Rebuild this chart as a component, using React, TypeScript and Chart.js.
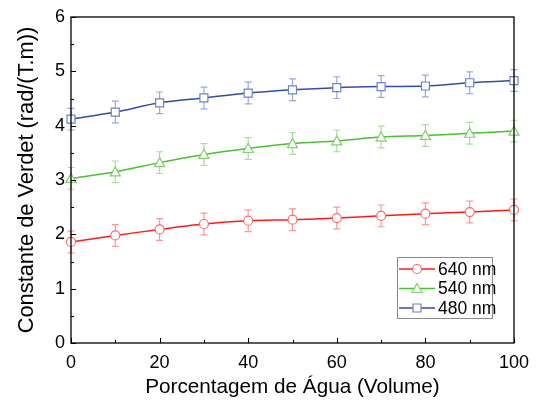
import React, { useEffect, useRef } from "react";
import { Chart, registerables } from "chart.js";

Chart.register(...registerables);

const waterPct = [0, 10, 20, 30, 40, 50, 60, 70, 80, 90, 100];
const verdet640 = [1.86, 1.98, 2.09, 2.19, 2.25, 2.27, 2.30, 2.34, 2.38, 2.41, 2.45];
const verdet540 = [3.03, 3.15, 3.32, 3.47, 3.58, 3.67, 3.72, 3.79, 3.82, 3.86, 3.90];
const verdet480 = [4.12, 4.25, 4.42, 4.51, 4.60, 4.66, 4.70, 4.72, 4.73, 4.79, 4.83];
const err640 = [0.2, 0.2, 0.2, 0.2, 0.2, 0.2, 0.2, 0.2, 0.2, 0.2, 0.2];
const err540 = [0.2, 0.2, 0.2, 0.2, 0.2, 0.2, 0.2, 0.2, 0.2, 0.2, 0.2];
const err480 = [0.2, 0.2, 0.2, 0.2, 0.2, 0.2, 0.2, 0.2, 0.2, 0.2, 0.2];
const seriesLabels = ["640 nm", "540 nm", "480 nm"];
const xTickStep = 20;
const xMinorStep = 10;
const yTickStep = 1;
const yMinorStep = 0.5;

const FONT = "'Liberation Sans', Arial, sans-serif";

const lineColors = ["#ff1a1a", "#4cbf34", "#2f4ea8"];
const markColors = ["#ff6a6a", "#84cf70", "#6f82c8"];
const errColors = ["rgba(255,80,80,0.6)", "rgba(110,200,90,0.6)", "rgba(90,110,200,0.6)"];
const shapes = ["circle", "triangle", "rect"];
const errs = [err640, err540, err480];

function drawMarker(ctx: CanvasRenderingContext2D, shape: string, x: number, y: number, color: string) {
  ctx.save();
  ctx.fillStyle = "#fff";
  ctx.strokeStyle = color;
  ctx.lineWidth = 1.2;
  ctx.beginPath();
  if (shape === "circle") {
    ctx.arc(x, y, 4.5, 0, Math.PI * 2);
  } else if (shape === "triangle") {
    ctx.moveTo(x, y - 5);
    ctx.lineTo(x + 5, y + 4);
    ctx.lineTo(x - 5, y + 4);
    ctx.closePath();
  } else {
    ctx.rect(x - 4, y - 4, 8, 8);
  }
  ctx.fill();
  ctx.stroke();
  ctx.restore();
}

const framePlugin = {
  id: "framePlugin",
  beforeDatasetsDraw(chart: any) {
    const ctx = chart.ctx as CanvasRenderingContext2D;
    const xs = chart.scales.x;
    const ys = chart.scales.y;
    ctx.save();
    chart.data.datasets.forEach((ds: any, i: number) => {
      ctx.strokeStyle = errColors[i];
      ctx.lineWidth = 1.2;
      ds.data.forEach((p: any, j: number) => {
        const px = xs.getPixelForValue(p.x);
        const top = ys.getPixelForValue(p.y + errs[i][j]);
        const bot = ys.getPixelForValue(p.y - errs[i][j]);
        ctx.beginPath();
        ctx.moveTo(px, top);
        ctx.lineTo(px, bot);
        ctx.moveTo(px - 3.5, top);
        ctx.lineTo(px + 3.5, top);
        ctx.moveTo(px - 3.5, bot);
        ctx.lineTo(px + 3.5, bot);
        ctx.stroke();
      });
    });
    ctx.restore();
  },
  afterDatasetsDraw(chart: any) {
    const ctx = chart.ctx as CanvasRenderingContext2D;
    const xs = chart.scales.x;
    const ys = chart.scales.y;
    chart.data.datasets.forEach((ds: any, i: number) => {
      ds.data.forEach((p: any) => {
        drawMarker(ctx, shapes[i], xs.getPixelForValue(p.x), ys.getPixelForValue(p.y), markColors[i]);
      });
    });
  },
  afterDraw(chart: any) {
    const ctx = chart.ctx as CanvasRenderingContext2D;
    const a = chart.chartArea;
    const xs = chart.scales.x;
    const ys = chart.scales.y;
    ctx.save();
    ctx.strokeStyle = "#000";
    ctx.lineWidth = 1.3;
    ctx.strokeRect(a.left, a.top, a.right - a.left, a.bottom - a.top);
    ctx.lineWidth = 1;
    ctx.beginPath();
    for (let v = xs.min; v <= xs.max + 1e-9; v += xMinorStep) {
      const px = Math.round(xs.getPixelForValue(v)) + 0.5;
      const major = Math.abs(v / xTickStep - Math.round(v / xTickStep)) < 1e-6;
      const len = major ? 5 : 3;
      ctx.moveTo(px, a.bottom);
      ctx.lineTo(px, a.bottom - len);
    }
    for (let v = ys.min; v <= ys.max + 1e-9; v += yMinorStep) {
      const py = Math.round(ys.getPixelForValue(v)) + 0.5;
      const major = Math.abs(v / yTickStep - Math.round(v / yTickStep)) < 1e-6;
      const len = major ? 5 : 3;
      ctx.moveTo(a.left, py);
      ctx.lineTo(a.left + len, py);
    }
    ctx.stroke();

    // legend
    const boxR = a.right - 22;
    const boxB = a.bottom - 25;
    const boxW = 95;
    const boxH = 61;
    const boxL = boxR - boxW;
    const boxT = boxB - boxH;
    ctx.fillStyle = "#fff";
    ctx.fillRect(boxL, boxT, boxW, boxH);
    ctx.strokeStyle = "#8a8a8a";
    ctx.lineWidth = 1;
    ctx.strokeRect(boxL + 0.5, boxT + 0.5, boxW, boxH);
    ctx.font = `17.5px ${FONT}`;
    ctx.textBaseline = "middle";
    ctx.textAlign = "left";
    chart.data.datasets.forEach((ds: any, i: number) => {
      const y = boxT + 12 + i * 19.5;
      ctx.strokeStyle = lineColors[i];
      ctx.lineWidth = 1.3;
      ctx.beginPath();
      ctx.moveTo(boxL + 2, y);
      ctx.lineTo(boxL + 38, y);
      ctx.stroke();
      drawMarker(ctx, shapes[i], boxL + 20, y, markColors[i]);
      ctx.fillStyle = "#000";
      ctx.fillText(ds.label, boxL + 41, y + 1);
    });
    ctx.restore();
  },
};

export default function App() {
  const ref = useRef<HTMLCanvasElement | null>(null);
  useEffect(() => {
    if (!ref.current) return;
    const series = [verdet640, verdet540, verdet480];
    const chart = new Chart(ref.current, {
      type: "line",
      data: {
        datasets: series.map((vals, i) => ({
          label: seriesLabels[i],
          data: waterPct.map((x, j) => ({ x, y: vals[j] })),
          borderColor: lineColors[i],
          borderWidth: 1.5,
          pointRadius: 0,
          tension: 0.3,
          fill: false,
        })),
      },
      options: {
        animation: false,
        responsive: false,
        maintainAspectRatio: false,
        layout: { padding: { top: 17, right: 25, left: 0, bottom: 0 } },
        plugins: { legend: { display: false }, tooltip: { enabled: false } },
        scales: {
          x: {
            type: "linear",
            min: 0,
            max: 100,
            grid: { display: false, drawTicks: false },
            border: { display: false },
            ticks: { stepSize: xTickStep, color: "#000", padding: 9, maxRotation: 0, font: { size: 18, family: FONT } },
            title: {
              display: true,
              text: "Porcentagem de Água (Volume)",
              color: "#000",
              font: { size: 20.7, family: FONT },
              padding: { top: 0, bottom: 2 },
            },
            afterFit: (s: any) => { s.height = 59; },
          },
          y: {
            type: "linear",
            min: 0,
            max: 6,
            grid: { display: false, drawTicks: false },
            border: { display: false },
            ticks: { stepSize: yTickStep, color: "#000", padding: 6, font: { size: 18, family: FONT } },
            title: {
              display: true,
              text: "Constante de Verdet (rad/(T.m))",
              color: "#000",
              font: { size: 21.8, family: FONT },
              padding: { top: 14, bottom: 0 },
            },
            afterFit: (s: any) => { s.width = 71; },
          },
        },
      },
      plugins: [framePlugin],
    } as any);
    return () => chart.destroy();
  }, []);
  return (
    <div style={{ position: "fixed", left: 0, top: 0, width: 539, height: 402, background: "#fff" }}>
      <canvas ref={ref} width={539} height={402} style={{ width: 539, height: 402, display: "block" }} />
    </div>
  );
}
